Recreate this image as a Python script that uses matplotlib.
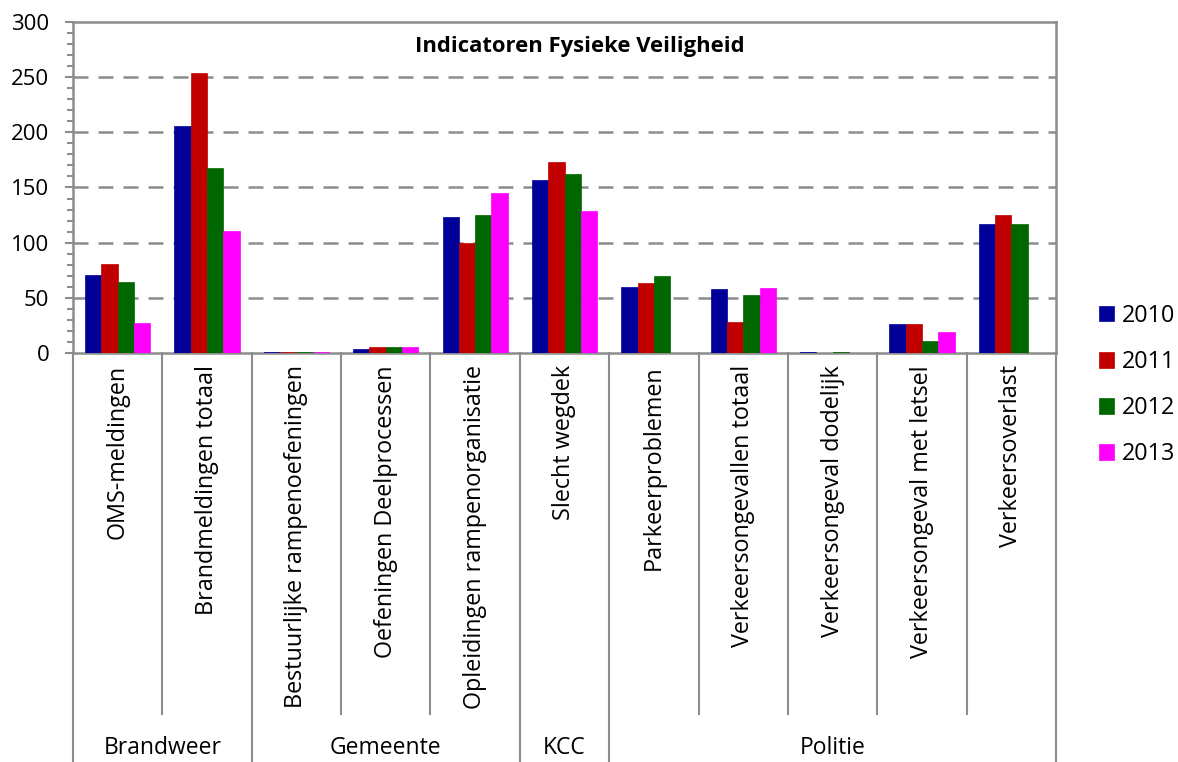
import numpy as np
import matplotlib
matplotlib.use("Agg")
from matplotlib import pyplot as plt

categories = ["OMS-meldingen", "Brandmeldingen totaal", "Bestuurlijke rampenoefeningen",
              "Oefeningen Deelprocessen", "Opleidingen rampenorganisatie", "Slecht wegdek",
              "Parkeerproblemen", "Verkeersongevallen totaal", "Verkeersongeval dodelijk",
              "Verkeersongeval met letsel", "Verkeersoverlast"]
groups = ["Brandweer", "Gemeente", "KCC", "Politie"]
group_sizes = [2, 3, 1, 5]
years = ["2010", "2011", "2012", "2013"]
v2010 = [71, 206, 0.5, 4, 123, 157, 60, 58, 0.5, 26, 117]
v2011 = [81, 254, 0.5, 5, 100, 173, 63, 28, 0, 26, 125]
v2012 = [64, 168, 0.5, 5, 125, 162, 70, 53, 0.5, 11, 117]
v2013 = [27, 111, 0.5, 5, 145, 129, 0, 59, 0, 19, 0]
colors = ["#000099", "#C00000", "#006600", "#FF00FF"]

plt.rcParams["font.family"] = ["Open Sans", "DejaVu Sans"]
fig = plt.figure(figsize=(11.78, 7.62), dpi=100)
ax = fig.add_axes([73/1178, 1-353/762, (1056-73)/1178, 331/762])

x = np.arange(len(categories))
w = 0.73 / 4
for i, vals in enumerate([v2010, v2011, v2012, v2013]):
    ax.bar(x + (i - 1.5) * w, vals, w, color=colors[i], label=years[i],
           edgecolor=colors[i], linewidth=0.5, zorder=3)

grey = "#8c8c8c"
ax.set_xlim(-0.5, len(categories) - 0.5)
ax.set_ylim(0, 300)
ax.set_yticks(range(0, 301, 50))
ax.set_yticks(range(0, 301, 10), minor=True)
ax.tick_params(axis="y", which="major", length=6, width=1.5, color=grey, labelsize=16, pad=11)
ax.tick_params(axis="y", which="minor", length=4, width=1.5, color=grey)
ax.set_xticks([])
for y in range(50, 300, 50):
    ax.axhline(y, color=grey, lw=1.8, dashes=(6, 4), zorder=1)
for s in ax.spines.values():
    s.set_color(grey)
    s.set_linewidth(1.8)

# multi-level category axis below the plot
tr = ax.get_xaxis_transform()
bounds = np.cumsum([0] + group_sizes) - 0.5
for b in np.arange(-0.5, len(categories)):
    if b in bounds:
        ax.plot([b, b], [0, -409/331], color=grey, lw=1.5, transform=tr, clip_on=False)
    else:
        ax.plot([b, b], [0, -361/331], color=grey, lw=1.5, transform=tr, clip_on=False)
for xi, c in zip(x, categories):
    ax.text(xi, -12/331, c, rotation=90, ha="center", va="top", fontsize=16.8,
            transform=tr)
for g, lo, hi in zip(groups, bounds[:-1], bounds[1:]):
    ax.text((lo + hi) / 2, -395/331, g, ha="center", va="center", fontsize=16.5,
            transform=tr)

ax.text(0.516, 0.925, "Indicatoren Fysieke Veiligheid", transform=ax.transAxes,
        ha="center", va="center", fontsize=15.8, fontweight="bold")

ax.legend(loc="center left", bbox_to_anchor=(1078/1178, 1-385/762),
          bbox_transform=fig.transFigure, frameon=False, fontsize=16.8,
          handlelength=0.65, handleheight=0.65, handletextpad=0.35, labelspacing=0.95)

fig.savefig("out.png", dpi=100)
